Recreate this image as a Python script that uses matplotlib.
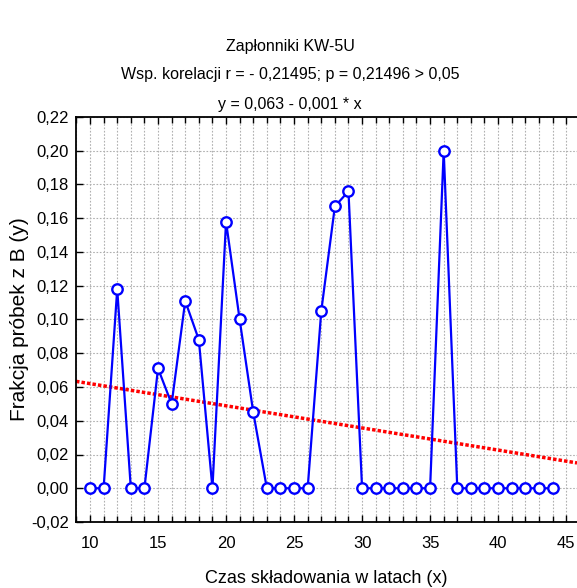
import numpy as np
import matplotlib
matplotlib.use("Agg")
from matplotlib import pyplot as plt
from matplotlib.ticker import MultipleLocator, FuncFormatter

plt.rcParams['font.family'] = ['Liberation Sans', 'DejaVu Sans']

# data
years = [10, 11, 12, 13, 14, 15, 16, 17, 18, 19, 20, 21, 22, 23, 24, 25, 26, 27,
         28, 29, 30, 31, 32, 33, 34, 35, 36, 37, 38, 39, 40, 41, 42, 43, 44]
fraction = [0, 0, 0.118, 0, 0, 0.071, 0.050, 0.111, 0.088, 0, 0.158, 0.100, 0.045,
            0, 0, 0, 0, 0.105, 0.167, 0.176, 0, 0, 0, 0, 0, 0, 0.200,
            0, 0, 0, 0, 0, 0, 0, 0]
title_lines = ["Zapłonniki KW-5U",
               "Wsp. korelacji r = - 0,21495; p = 0,21496 > 0,05",
               "y = 0,063 - 0,001 * x"]

x = np.array(years, dtype=float)
y = np.array(fraction)
slope, intercept = np.polyfit(x, y, 1)

fig = plt.figure(figsize=(5.77, 5.88), dpi=100)
ax = fig.add_axes([76 / 577, 66 / 588, 1 - 76 / 577, 405 / 588])

xlim = (8.97, 45.8)
xx = np.array(xlim)
ax.plot(xx, intercept + slope * xx, color='red', lw=2.5, ls=(0, (1, 0.6)), zorder=2)
ax.plot(x, y, color='blue', lw=1.6, marker='o', ms=7.5, mfc='white', mec='blue', mew=1.7,
        zorder=3, clip_on=False)

ax.set_xlim(*xlim)
ax.set_ylim(-0.02, 0.22)
ax.xaxis.set_major_locator(MultipleLocator(5))
ax.xaxis.set_minor_locator(MultipleLocator(1))
ax.yaxis.set_major_locator(MultipleLocator(0.02))
ax.yaxis.set_major_formatter(FuncFormatter(lambda v, p: f"{v:.2f}".replace('.', ',').replace('-0,00', '0,00')))
ax.xaxis.set_major_formatter(FuncFormatter(lambda v, p: f"{v:.0f}"))

ax.grid(True, which='both', axis='x', color='#b0b0b0', ls=(0, (1.5, 1.5)), lw=0.8)
ax.grid(True, which='major', axis='y', color='#b0b0b0', ls=(0, (1.5, 1.5)), lw=0.8)
ax.tick_params(which='both', direction='in', top=True, right=False, labelsize=12)
ax.tick_params(axis='x', pad=10)
ax.tick_params(axis='y', pad=5)
ax.tick_params(which='major', length=5, width=1)
ax.tick_params(which='minor', length=4, width=1)
for s in ['left', 'bottom', 'top']:
    ax.spines[s].set_linewidth(1.3)
ax.spines['right'].set_visible(False)

ax.set_xlabel("Czas składowania w latach (x)", fontsize=13, labelpad=14)
ax.set_ylabel("Frakcja próbek z B (y)", fontsize=15)
ax.yaxis.set_label_coords(-47 / 501, 0.5)

for i, t in enumerate(title_lines):
    fig.text(0.503, 1 - (46 + 29 * i) / 588, t, ha='center', va='center', fontsize=11.5)

fig.savefig("out.png", dpi=100)
